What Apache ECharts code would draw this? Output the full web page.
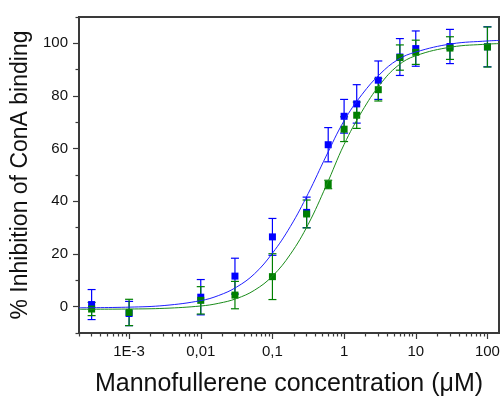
<!DOCTYPE html>
<html>
<head>
<meta charset="utf-8">
<script src="https://cdn.jsdelivr.net/npm/echarts@6/dist/echarts.min.js"></script>
<style>
  html, body { margin: 0; padding: 0; background: #ffffff; }
  #chart { width: 502px; height: 397px; }
</style>
</head>
<body>
<div id="chart"></div>
<script>
// Mannofullerene concentrations tested (µM)
const concentrations = [0.0003, 0.001, 0.01, 0.03, 0.1, 0.3, 0.6, 1, 1.5, 3, 6, 10, 30, 100];

// Blue compound: mean % inhibition and error
const blueMean = [0.8, -2.6, 3.6, 11.6, 26.5, 35.8, 61.5, 72.3, 77.0, 86.0, 94.8, 98.0, 98.8, 98.7];
const blueErr  = [5.7, 4.6, 6.7, 6.8, 7.0, 5.8, 6.5, 6.4, 7.3, 7.3, 7.0, 6.7, 6.5, 7.6];

// Green compound: mean % inhibition and error
const greenMean = [-0.9, -2.2, 2.4, 4.4, 11.4, 35.2, 46.4, 67.4, 72.7, 82.4, 94.6, 96.6, 98.2, 98.6];
const greenErr  = [2.5, 5.0, 5.2, 5.2, 8.7, 5.3, 1.6, 4.7, 5.0, 4.3, 4.8, 4.6, 4.3, 7.6];

// Dose-response fit curves, sampled along the concentration axis
const fitConc  = [0.0002, 0.001, 0.00316, 0.01, 0.0178, 0.0316, 0.0562, 0.1, 0.178, 0.316, 0.562, 1, 1.78, 3.16, 5.62, 10, 31.6, 100, 145];
const blueFit  = [-0.43, -0.18, 0.46, 2.30, 4.25, 7.44, 12.48, 20.3, 30.45, 43.0, 57.2, 70.6, 80.6, 88.3, 93.8, 96.7, 99.8, 100.9, 101.1];
const greenFit = [-0.98, -0.89, -0.62, 0.26, 1.28, 3.09, 6.25, 11.6, 19.9, 31.3, 45.9, 61.6, 74.2, 84.3, 91.5, 95.3, 98.6, 99.7, 99.9];

// Axis ticks
const xTickValues = [0.001, 0.01, 0.1, 1, 10, 100];
const xTickLabels = ['1E-3', '0,01', '0,1', '1', '10', '100'];
const yTickValues = [0, 20, 40, 60, 80, 100];
const yMinorTicks = [-10, 10, 30, 50, 70, 90, 110];

const xMin = 0.0002, xMax = 145;
const yMin = -10, yMax = 110;

const BLUE = '#0000ff';
const GREEN = '#008000';
const AXIS = '#3a3a3a';
const FONT = '"Liberation Sans", Arial, Helvetica, sans-serif';

// The concentration axis is logarithmic: positions are log10 of concentration
const lg = v => Math.log10(v);

// minor ticks at 2..9 × each decade inside the axis range
const xMinorTicks = [];
for (let e = -4; e <= 2; e++) {
  for (let k = 2; k <= 9; k++) {
    const v = k * Math.pow(10, e);
    if (v >= xMin && v <= xMax) xMinorTicks.push(lg(v));
  }
}

function pointData(means) {
  return concentrations.map((c, i) => [lg(c), means[i]]);
}
function errData(means, errs) {
  return concentrations.map((c, i) => [lg(c), means[i] - errs[i], means[i] + errs[i]]);
}
function fitData(vals) {
  return fitConc.map((c, i) => [lg(c), vals[i]]);
}

function errorBars(name, means, errs, color) {
  return {
    name: name,
    type: 'custom',
    xAxisIndex: 0,
    yAxisIndex: 0,
    data: errData(means, errs),
    encode: { x: 0, y: [1, 2] },
    renderItem: function (params, api) {
      const x = api.value(0);
      const lo = api.coord([x, api.value(1)]);
      const hi = api.coord([x, api.value(2)]);
      const cap = 4;
      const st = { stroke: color, lineWidth: 1.2 };
      return {
        type: 'group',
        children: [
          { type: 'line', shape: { x1: hi[0], y1: hi[1], x2: lo[0], y2: lo[1] }, style: st },
          { type: 'line', shape: { x1: hi[0] - cap, y1: hi[1], x2: hi[0] + cap, y2: hi[1] }, style: st },
          { type: 'line', shape: { x1: lo[0] - cap, y1: lo[1], x2: lo[0] + cap, y2: lo[1] }, style: st }
        ]
      };
    },
    silent: true
  };
}

function fitLine(name, vals, color) {
  return {
    name: name,
    type: 'line',
    xAxisIndex: 0,
    yAxisIndex: 0,
    data: fitData(vals),
    smooth: 0.4,
    symbol: 'none',
    lineStyle: { color: color, width: 1 },
    silent: true
  };
}

function markers(name, means, color) {
  return {
    name: name,
    type: 'scatter',
    xAxisIndex: 0,
    yAxisIndex: 0,
    data: pointData(means),
    symbol: 'rect',
    symbolSize: 7,
    itemStyle: { color: color, opacity: 1 },
    silent: true
  };
}

const chart = echarts.init(document.getElementById('chart'), null, { renderer: 'canvas' });

chart.setOption({
  animation: false,
  backgroundColor: '#ffffff',
  grid: {
    left: 79, right: 3, top: 17, bottom: 64,
    containLabel: false,
    outerBoundsMode: 'none',
    show: true, borderColor: AXIS, borderWidth: 2, backgroundColor: 'transparent'
  },
  xAxis: [
    {
      type: 'value',
      min: lg(xMin), max: lg(xMax),
      position: 'bottom',
      name: 'Mannofullerene concentration (\u03BCM)',
      nameLocation: 'middle',
      nameGap: 39,
      nameTextStyle: { fontFamily: FONT, fontSize: 25, color: '#111' },
      axisLine: { show: true, onZero: false, lineStyle: { color: AXIS, width: 2 } },
      axisTick: { show: true, customValues: xTickValues.map(lg), length: 6, lineStyle: { color: AXIS, width: 1.2 } },
      axisLabel: {
        show: true,
        customValues: xTickValues.map(lg),
        margin: 11,
        fontFamily: FONT, fontSize: 15, color: '#111',
        formatter: function (v) {
          const i = xTickValues.findIndex(t => Math.abs(lg(t) - v) < 1e-6);
          return i >= 0 ? xTickLabels[i] : '';
        }
      },
      splitLine: { show: false }
    },
    {
      type: 'value',
      min: lg(xMin), max: lg(xMax),
      position: 'bottom',
      axisLine: { show: false, onZero: false },
      axisTick: { show: true, customValues: xMinorTicks, length: 3.5, lineStyle: { color: AXIS, width: 1.2 } },
      axisLabel: { show: false },
      splitLine: { show: false }
    }
  ],
  yAxis: [
    {
      type: 'value',
      min: yMin, max: yMax,
      position: 'left',
      name: '% Inhibition of ConA binding',
      nameLocation: 'middle',
      nameGap: 40,
      nameTextStyle: { fontFamily: FONT, fontSize: 23, color: '#111' },
      axisLine: { show: true, onZero: false, lineStyle: { color: AXIS, width: 2 } },
      axisTick: { show: true, customValues: yTickValues, length: 6, lineStyle: { color: AXIS, width: 1.2 } },
      axisLabel: {
        show: true,
        customValues: yTickValues,
        margin: 11,
        fontFamily: FONT, fontSize: 15, color: '#111'
      },
      splitLine: { show: false }
    },
    {
      type: 'value',
      min: yMin, max: yMax,
      position: 'left',
      axisLine: { show: false, onZero: false },
      axisTick: { show: true, customValues: yMinorTicks, length: 3.5, lineStyle: { color: AXIS, width: 1.2 } },
      axisLabel: { show: false },
      splitLine: { show: false }
    }
  ],
  series: [
    fitLine('blue fit', blueFit, '#1f1fff'),
    fitLine('green fit', greenFit, '#1a8c1a'),
    errorBars('blue error', blueMean, blueErr, BLUE),
    errorBars('green error', greenMean, greenErr, GREEN),
    markers('blue', blueMean, BLUE),
    markers('green', greenMean, GREEN)
  ]
});
</script>
</body>
</html>
